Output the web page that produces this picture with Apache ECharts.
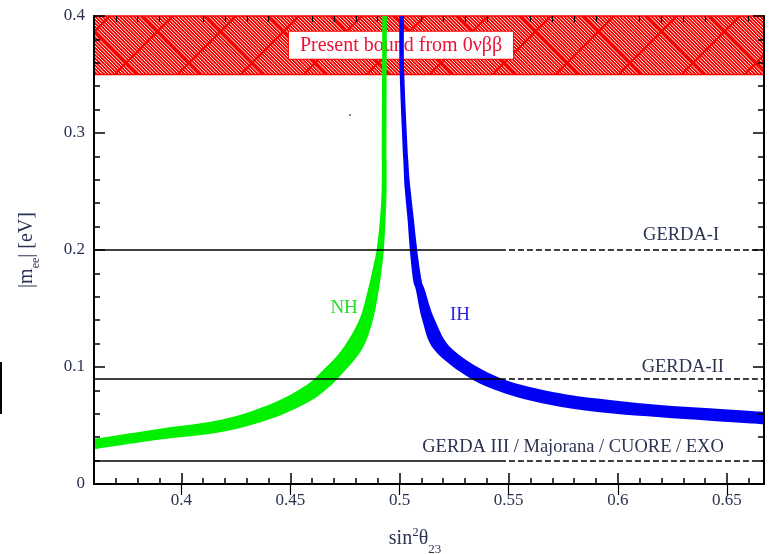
<!DOCTYPE html>
<html>
<head>
<meta charset="utf-8">
<script src="https://cdn.jsdelivr.net/npm/echarts@6/dist/echarts.min.js"></script>
<style>
  html, body { margin: 0; padding: 0; background: #fff; }
  #chart { width: 769px; height: 554px; }
</style>
</head>
<body>
<div id="chart"></div>
<script>
// axis ranges and ticks
const xRange = [0.36, 0.667];
const yRange = [0, 0.4];
const xMajorTicks = [0.4, 0.45, 0.5, 0.55, 0.6, 0.65];
const xMinorTicks = [0.37, 0.38, 0.39, 0.41, 0.42, 0.43, 0.44, 0.46, 0.47, 0.48, 0.49,
  0.51, 0.52, 0.53, 0.54, 0.56, 0.57, 0.58, 0.59, 0.61, 0.62, 0.63, 0.64, 0.66];

// NH band edges [sin^2 theta23, |m_ee|]
const nhUpper = [[0.36, 0.0385], [0.3886, 0.0468], [0.4192, 0.0553], [0.4421, 0.0692],
  [0.4574, 0.0846], [0.465, 0.0974], [0.4735, 0.1145], [0.4815, 0.1402], [0.4855, 0.1658],
  [0.4876, 0.1829], [0.4895, 0.2], [0.491, 0.2256], [0.4918, 0.2513], [0.4919, 0.2769], [0.4921, 0.4]];
const nhLower = [[0.36, 0.0297], [0.3886, 0.0376], [0.4192, 0.0447], [0.4421, 0.0564],
  [0.4574, 0.0692], [0.465, 0.0786], [0.4719, 0.0906], [0.4826, 0.1145], [0.4878, 0.1402],
  [0.4905, 0.1658], [0.4918, 0.1829], [0.4928, 0.2], [0.4936, 0.2256], [0.4941, 0.2513], [0.4941, 0.2769], [0.4942, 0.4]];

// IH band edges
const ihUpper = [[0.502, 0.4], [0.5022, 0.3496], [0.504, 0.2769], [0.5051, 0.2513], [0.5066, 0.2256],
  [0.5081, 0.2], [0.5101, 0.1744], [0.5116, 0.1658], [0.5162, 0.1402], [0.5246, 0.1145],
  [0.546, 0.0906], [0.5735, 0.0775], [0.5964, 0.0718], [0.6193, 0.0675], [0.6422, 0.0647], [0.667, 0.0616]];
const ihLower = [[0.4999, 0.4], [0.5001, 0.3496], [0.5017, 0.2778], [0.5024, 0.2521], [0.5037, 0.2256],
  [0.5047, 0.2], [0.5062, 0.1744], [0.5075, 0.1658], [0.5104, 0.1402], [0.516, 0.1145],
  [0.5322, 0.0906], [0.5506, 0.0761], [0.5735, 0.0661], [0.5964, 0.0604], [0.6193, 0.057], [0.6422, 0.0541], [0.667, 0.0511]];

// experiment sensitivities
const gerdaLevels = [0.2, 0.09, 0.02];
const gerdaNames = ['GERDA-I', 'GERDA-II', 'GERDA III / Majorana / CUORE / EXO'];
const gerdaSplit = 0.546;   // solid -> dashed
const boundRange = [0.35, 0.4];

const serif = 'Liberation Serif';
const textDark = '#2c3252';

// hatching for the excluded region
function hatch() {
  const s = 63;
  const c = document.createElement('canvas');
  c.width = s; c.height = s;
  const g = c.getContext('2d');
  g.fillStyle = '#ff0000';
  g.fillRect(0, 0, s, s);
  g.strokeStyle = '#ffffff';
  g.lineWidth = 1;
  for (let k = -s; k <= s; k += 3.5) {
    g.beginPath(); g.moveTo(k, 0); g.lineTo(k + s, s); g.stroke();
  }
  g.strokeStyle = '#ff0000';
  g.lineWidth = 2.2;
  g.beginPath(); g.moveTo(0, 0); g.lineTo(s, s); g.stroke();
  g.beginPath(); g.moveTo(s, 0); g.lineTo(0, s); g.stroke();
  return c;
}

// smooth edge through the read points (pixel space)
function edgePath(pts, start) {
  let d = (start ? 'M' : 'L') + pts[0][0] + ' ' + pts[0][1];
  for (let i = 0; i < pts.length - 1; i++) {
    const p0 = pts[i - 1] || pts[i], p1 = pts[i], p2 = pts[i + 1], p3 = pts[i + 2] || pts[i + 1];
    const c1 = [p1[0] + (p2[0] - p0[0]) / 6, p1[1] + (p2[1] - p0[1]) / 6];
    const c2 = [p2[0] - (p3[0] - p1[0]) / 6, p2[1] - (p3[1] - p1[1]) / 6];
    d += ' C' + c1.join(' ') + ' ' + c2.join(' ') + ' ' + p2.join(' ');
  }
  return d;
}

const band = (upper, lower, color) => (params, api) => {
  const a = upper.map(p => api.coord(p));
  const b = lower.slice().reverse().map(p => api.coord(p));
  return { type: 'path', shape: { pathData: edgePath(a, true) + ' ' + edgePath(b, false) + ' Z' }, style: { fill: color } };
};

const chart = echarts.init(document.getElementById('chart'));

const axisBase = {
  type: 'value', min: xRange[0], max: xRange[1],
  splitLine: { show: false }
};
const tickStyle = { lineStyle: { color: '#000', width: 1.5 } };

const option = {
  animation: false,
  backgroundColor: '#fff',
  grid: { left: 94, right: 5, top: 16, bottom: 70, outerBoundsMode: 'none', containLabel: false },
  xAxis: [
    {
      ...axisBase, position: 'bottom',
      name: '{a|sin}{sup|2}{a|θ}{sub|23}', nameLocation: 'middle', nameGap: 38,
      nameTextStyle: {
        padding: [0, 28, 0, 0],
        rich: {
          a: { fontFamily: serif, fontSize: 20, color: textDark, lineHeight: 34 },
          sup: { fontFamily: serif, fontSize: 13, color: textDark, verticalAlign: 'top', padding: [4, 0, 0, 0] },
          sub: { fontFamily: serif, fontSize: 13, color: textDark, verticalAlign: 'bottom' }
        }
      },
      axisLine: { show: true, onZero: false, lineStyle: { color: '#000', width: 2 } },
      axisTick: { show: true, inside: true, length: 11, customValues: xMajorTicks, ...tickStyle },
      axisLabel: { customValues: xMajorTicks, fontFamily: serif, fontSize: 17, color: textDark, margin: 8 }
    },
    {
      ...axisBase, position: 'bottom',
      axisLine: { show: false },
      axisTick: { show: true, inside: true, length: 6, customValues: xMinorTicks, ...tickStyle },
      axisLabel: { show: false }
    },
    {
      ...axisBase, position: 'top', z: 5,
      axisLine: { show: false },
      axisTick: { show: true, inside: true, length: 11, customValues: xMajorTicks, lineStyle: { color: '#000', width: 1.2 } },
      axisLabel: { show: false }
    },
    {
      ...axisBase, position: 'top', z: 5,
      axisLine: { show: false },
      axisTick: { show: true, inside: true, length: 6, customValues: xMinorTicks, lineStyle: { color: '#000', width: 1.2 } },
      axisLabel: { show: false }
    }
  ],
  yAxis: [
    {
      type: 'value', min: yRange[0], max: yRange[1], interval: 0.1, position: 'left', z: 5,
      name: '{a||m}{sub|ee}{a|| [eV]}', nameLocation: 'middle', nameGap: 52,
      nameTextStyle: {
        rich: {
          a: { fontFamily: serif, fontSize: 20, color: textDark, lineHeight: 30 },
          sub: { fontFamily: serif, fontSize: 12, color: textDark, verticalAlign: 'bottom' }
        }
      },
      splitLine: { show: false },
      axisLine: { show: true, onZero: false, lineStyle: { color: '#000', width: 2 } },
      axisTick: { show: true, inside: true, length: 11, ...tickStyle },
      minorTick: { show: true, splitNumber: 5, length: 6, lineStyle: { color: '#000', width: 1.5 } },
      axisLabel: { fontFamily: serif, fontSize: 17, color: textDark, margin: 9 }
    },
    {
      type: 'value', min: yRange[0], max: yRange[1], interval: 0.1, position: 'right', z: 5,
      splitLine: { show: false },
      axisLine: { show: true, onZero: false, lineStyle: { color: '#000', width: 2 } },
      axisTick: { show: true, inside: true, length: 11, ...tickStyle },
      minorTick: { show: true, splitNumber: 5, length: 6, lineStyle: { color: '#000', width: 1.5 } },
      axisLabel: { show: false }
    }
  ],
  series: [
    {
      type: 'custom', name: 'NH', clip: true, z: 2,
      data: [0], renderItem: band(nhUpper, nhLower, '#00f000')
    },
    {
      type: 'custom', name: 'IH', clip: true, z: 2,
      data: [0], renderItem: band(ihUpper, ihLower, '#0000f4')
    },
    {
      type: 'line', data: [], z: 3, silent: true,
      markLine: {
        symbol: 'none', silent: true, label: { show: false },
        data: gerdaLevels.flatMap(v => [
          [{ coord: [xRange[0], v], lineStyle: { type: 'solid' } }, { coord: [gerdaSplit, v] }],
          [{ coord: [gerdaSplit, v], lineStyle: { type: [6, 3] } }, { coord: [xRange[1], v] }]
        ]),
        lineStyle: { color: '#000', width: 1.5 }
      },
      markPoint: {
        symbol: 'rect', symbolSize: 0, silent: true,
        label: { show: true, position: 'inside', fontFamily: serif, fontSize: 18.5, color: textDark },
        data: [
          { coord: [0.629, 0.2125], label: { formatter: gerdaNames[0] } },
          { coord: [0.6298, 0.0998], label: { formatter: gerdaNames[1] } },
          { coord: [0.5795, 0.0315], label: { formatter: gerdaNames[2] } },
          { coord: [0.4746, 0.1505], label: { formatter: 'NH', color: '#22dd22', fontSize: 19 } },
          { coord: [0.5277, 0.1445], label: { formatter: 'IH', color: '#3322dd', fontSize: 19 } }
        ]
      }
    },
    {
      type: 'line', data: [], z: 4, silent: true,
      markArea: {
        silent: true,
        itemStyle: { color: { image: hatch(), repeat: 'repeat' }, borderColor: '#ff0000', borderWidth: 1.5, opacity: 1 },
        label: {
          show: true, position: 'inside', offset: [-28, 0],
          formatter: 'Present bound from 0νββ',
          fontFamily: serif, fontSize: 20, color: '#ee1133',
          backgroundColor: '#fff', borderColor: '#ff0000', borderWidth: 1,
          padding: [4, 11, 3, 11]
        },
        data: [[{ coord: [xRange[0], boundRange[0]] }, { coord: [xRange[1], boundRange[1]] }]]
      }
    }
  ],
  graphic: [
    { type: 'rect', left: 0, top: 362, shape: { width: 2, height: 52 }, style: { fill: '#000' } },
    { type: 'circle', left: 349, top: 114, shape: { r: 1 }, style: { fill: '#555' } }
  ]
};

chart.setOption(option);
</script>
</body>
</html>
